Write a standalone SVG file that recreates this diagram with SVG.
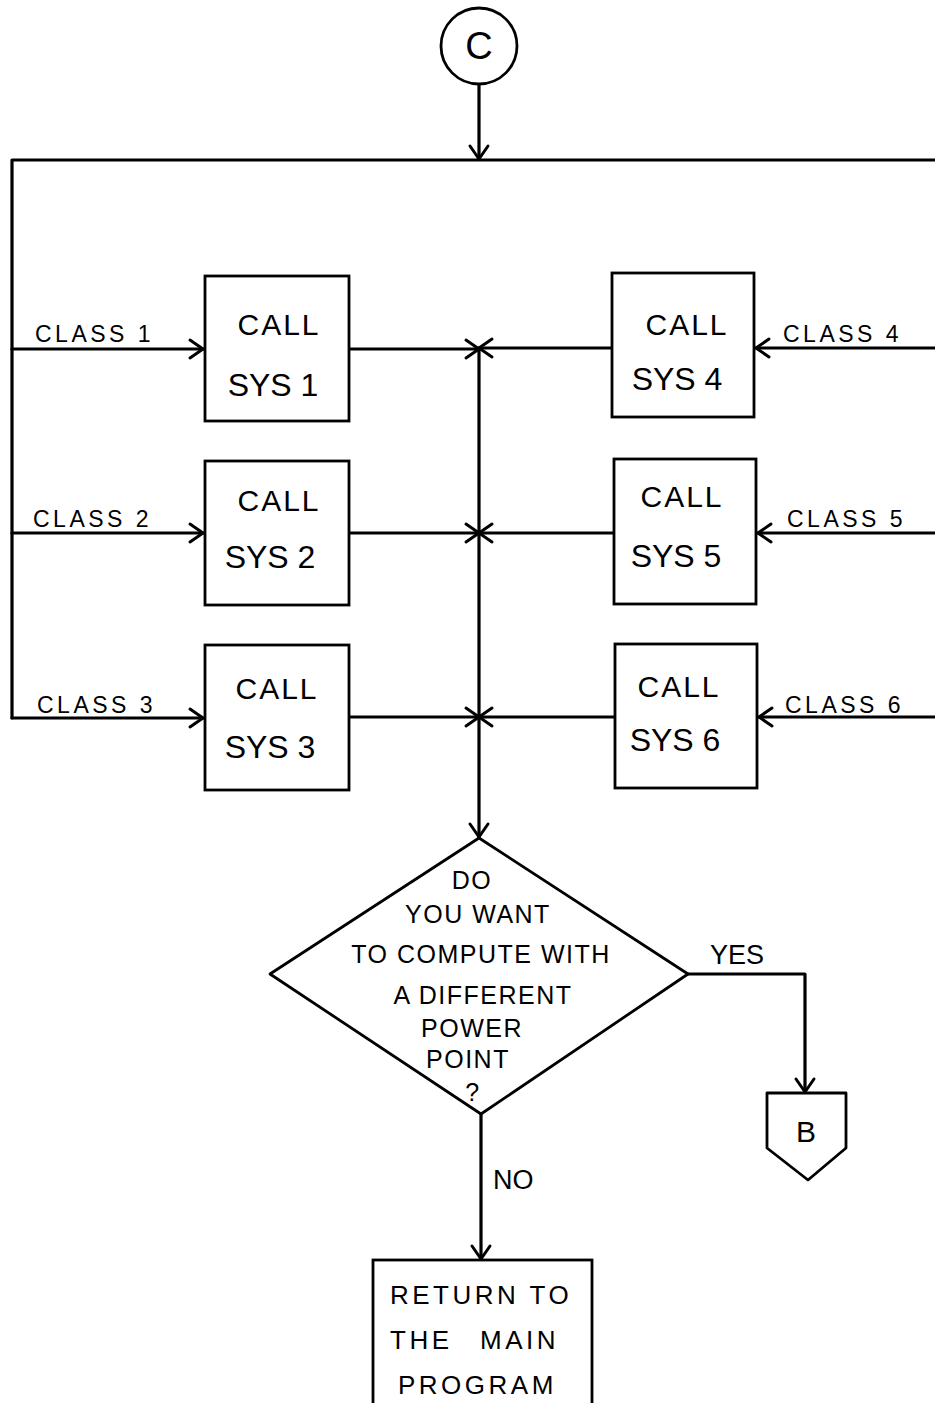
<svg xmlns="http://www.w3.org/2000/svg" width="935" height="1403" viewBox="0 0 935 1403">
<style>
.ln{fill:none;stroke:#000;stroke-width:3.2;stroke-linecap:round;stroke-linejoin:round}
.bx{fill:#fff;stroke:#000;stroke-width:2.8}
text{font-family:"Liberation Sans","DejaVu Sans",sans-serif;fill:#000}
.call{font-size:30px;text-anchor:middle;letter-spacing:2px}
.sys{font-size:32px;text-anchor:middle}
.cls{font-size:23px;letter-spacing:3.5px}
.dt{font-size:25px;text-anchor:middle;letter-spacing:1.5px}
.rt{font-size:26px;letter-spacing:3.5px}
</style>
<defs>
<marker id="ah" markerUnits="userSpaceOnUse" markerWidth="24" markerHeight="24" refX="14" refY="12" orient="auto" overflow="visible">
<path d="M1,3 L14,12 L1,21" fill="none" stroke="#000" stroke-width="3" stroke-linecap="round" stroke-linejoin="round"/>
</marker>
</defs>
<g id="connectors">
<line class="ln" x1="479" y1="85" x2="479" y2="159" marker-end="url(#ah)"/>
<polyline class="ln" points="12,718 12,160 935,160"/>
<line class="ln" x1="12" y1="349" x2="203" y2="349" marker-end="url(#ah)"/>
<line class="ln" x1="12" y1="533" x2="203" y2="533" marker-end="url(#ah)"/>
<line class="ln" x1="12" y1="718" x2="203" y2="718" marker-end="url(#ah)"/>
<line class="ln" x1="935" y1="348" x2="756" y2="348" marker-end="url(#ah)"/>
<line class="ln" x1="935" y1="533" x2="758" y2="533" marker-end="url(#ah)"/>
<line class="ln" x1="935" y1="717" x2="759" y2="717" marker-end="url(#ah)"/>
<line class="ln" x1="349" y1="349" x2="479" y2="349" marker-end="url(#ah)"/>
<line class="ln" x1="612" y1="348" x2="479" y2="348" marker-end="url(#ah)"/>
<line class="ln" x1="349" y1="533" x2="479" y2="533" marker-end="url(#ah)"/>
<line class="ln" x1="614" y1="533" x2="479" y2="533" marker-end="url(#ah)"/>
<line class="ln" x1="349" y1="717" x2="479" y2="717" marker-end="url(#ah)"/>
<line class="ln" x1="615" y1="717" x2="479" y2="717" marker-end="url(#ah)"/>
<line class="ln" x1="479" y1="348" x2="479" y2="837" marker-end="url(#ah)"/>
<polyline class="ln" points="688,974 805,974 805,1092" marker-end="url(#ah)"/>
<line class="ln" x1="481" y1="1114" x2="481" y2="1259" marker-end="url(#ah)"/>
<text class="cls" x="35" y="342">CLASS 1</text>
<text class="cls" x="33" y="527">CLASS 2</text>
<text class="cls" x="37" y="713">CLASS 3</text>
<text class="cls" x="783" y="342">CLASS 4</text>
<text class="cls" x="787" y="527">CLASS 5</text>
<text class="cls" x="785" y="713">CLASS 6</text>
<text x="710" y="964" style="font-size:27px">YES</text>
<text x="493" y="1189" style="font-size:27px">NO</text>
</g>
<g id="nodeC">
<circle cx="479" cy="46" r="38" fill="#fff" stroke="#000" stroke-width="2.8"/>
<text x="479" y="59" style="font-size:38px" text-anchor="middle">C</text>
</g>
<g id="sys1">
<rect class="bx" x="205" y="276" width="144" height="145"/>
<text class="call" x="279" y="335">CALL</text>
<text class="sys" x="273" y="396">SYS 1</text>
</g>
<g id="sys2">
<rect class="bx" x="205" y="461" width="144" height="144"/>
<text class="call" x="279" y="511">CALL</text>
<text class="sys" x="270" y="568">SYS 2</text>
</g>
<g id="sys3">
<rect class="bx" x="205" y="645" width="144" height="145"/>
<text class="call" x="277" y="699">CALL</text>
<text class="sys" x="270" y="758">SYS 3</text>
</g>
<g id="sys4">
<rect class="bx" x="612" y="273" width="142" height="144"/>
<text class="call" x="687" y="335">CALL</text>
<text class="sys" x="677" y="390">SYS 4</text>
</g>
<g id="sys5">
<rect class="bx" x="614" y="459" width="142" height="145"/>
<text class="call" x="682" y="507">CALL</text>
<text class="sys" x="676" y="567">SYS 5</text>
</g>
<g id="sys6">
<rect class="bx" x="615" y="644" width="142" height="144"/>
<text class="call" x="679" y="697">CALL</text>
<text class="sys" x="675" y="751">SYS 6</text>
</g>
<g id="decision">
<polygon points="479,838 688,974 481,1114 270,974" fill="#fff" stroke="#000" stroke-width="2.8" stroke-linejoin="round"/>
<text class="dt" x="472" y="889">DO</text>
<text class="dt" x="478" y="923">YOU WANT</text>
<text class="dt" x="481" y="963">TO COMPUTE WITH</text>
<text class="dt" x="483" y="1004">A DIFFERENT</text>
<text class="dt" x="472" y="1037">POWER</text>
<text class="dt" x="468" y="1068">POINT</text>
<text class="dt" x="473" y="1101">?</text>
</g>
<g id="nodeB">
<polygon points="767,1093 846,1093 846,1148 808,1180 767,1148" fill="#fff" stroke="#000" stroke-width="2.8" stroke-linejoin="round"/>
<text x="806" y="1142" style="font-size:30px" text-anchor="middle">B</text>
</g>
<g id="return">
<rect class="bx" x="373" y="1260" width="219" height="160"/>
<text class="rt" x="390" y="1304">RETURN TO</text>
<text class="rt" x="390" y="1349">THE<tspan x="480">MAIN</tspan></text>
<text class="rt" x="398" y="1394">PROGRAM</text>
</g>
</svg>
